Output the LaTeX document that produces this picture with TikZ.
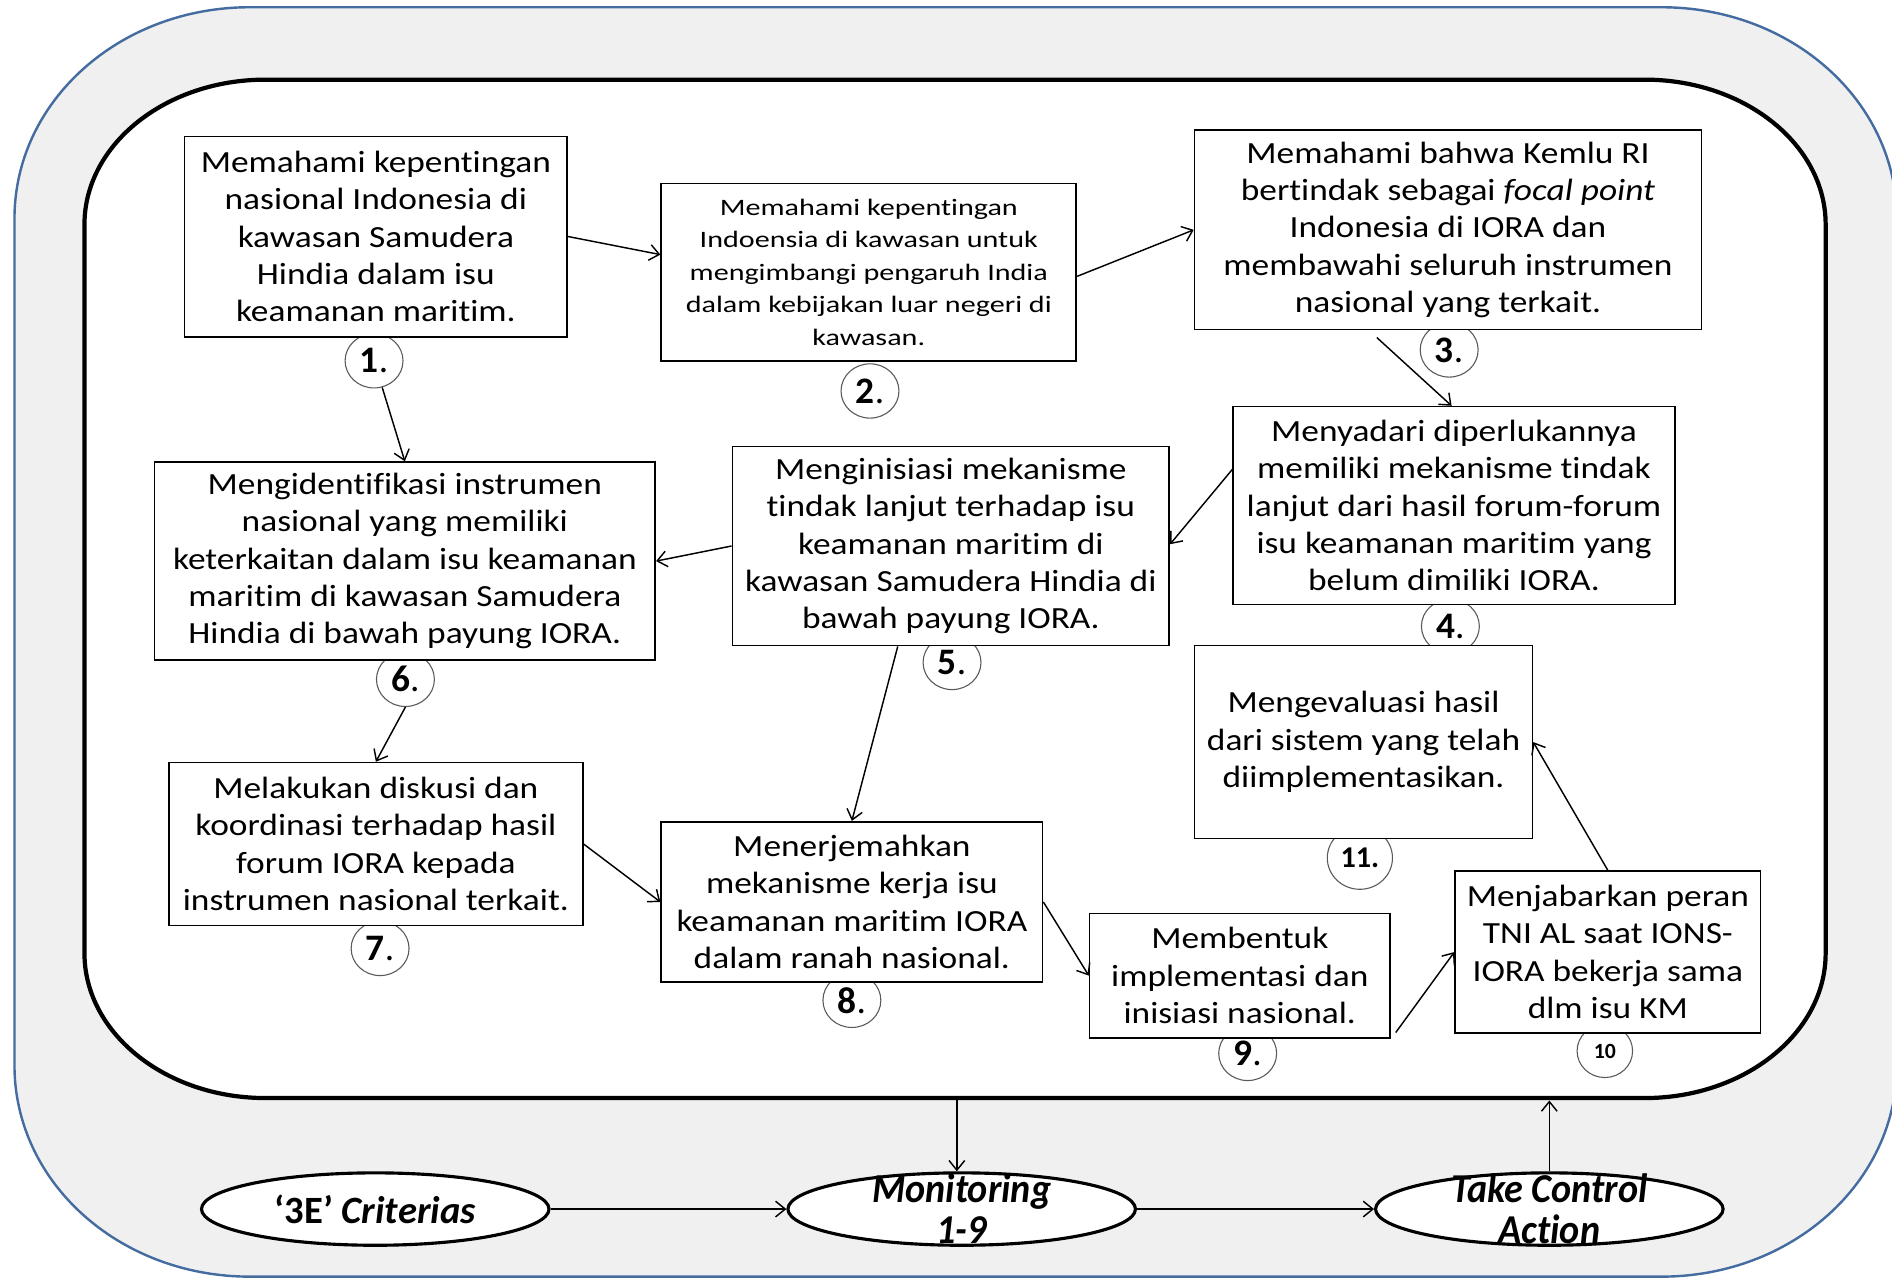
\documentclass[tikz,border=0pt]{standalone}
\usepackage{fontspec}
\setmainfont{Carlito}[Ligatures=NoCommon]
\newfontfamily\mainf[FakeStretch=1.15,Ligatures=NoCommon]{Carlito}
\newfontfamily\smallf[FakeStretch=1.28,Ligatures=NoCommon]{Carlito}
\newfontfamily\condf[FakeStretch=0.93,Ligatures=NoCommon]{Carlito}
\usetikzlibrary{arrows.meta,shapes.geometric,calc}
\definecolor{outerfill}{RGB}{240,240,240}
\definecolor{outerblue}{RGB}{68,108,160}
\definecolor{circgray}{RGB}{90,90,90}
\begin{document}
\begin{tikzpicture}[x=1pt,y=-1pt,
  box/.style={draw=black,line width=1.4pt,fill=white,align=center,inner sep=0pt,
    font=\mainf\fontsize{25.5}{31}\selectfont},
  numc/.style={draw=circgray,line width=0.9pt,fill=white,ellipse,inner sep=0pt,
    minimum width=48pt,minimum height=45pt,font=\fontsize{31}{31}\selectfont},
  arr/.style={line width=1.2pt,-{Straight Barb[length=8pt,width=13pt]}},
  oval/.style={draw=black,line width=2.6pt,fill=white,ellipse,inner sep=0pt,
    minimum width=288pt,minimum height=60pt},
  ovtext/.style={font=\condf\bfseries\itshape\fontsize{34}{34}\selectfont,align=center,inner sep=0pt}
]
\useasboundingbox (0,0) rectangle (1568,1061);
\fill[white] (0,0) rectangle (1568,1061);
% outer frame
\draw[draw=outerblue,line width=2pt,fill=outerfill]
  (12,181) .. controls (12,84) and (99,6) .. (207,6) -- (1377,6)
  .. controls (1485,6) and (1572,84) .. (1572,181) -- (1572,883)
  .. controls (1572,980) and (1485,1058) .. (1377,1058) -- (207,1058)
  .. controls (99,1058) and (12,980) .. (12,883) -- cycle;
% inner frame
\draw[draw=black,line width=3.5pt,fill=white]
  (70,186) .. controls (70,120) and (137,66) .. (220,66) -- (1363,66)
  .. controls (1446,66) and (1513,120) .. (1513,186) -- (1513,790)
  .. controls (1513,856) and (1446,910) .. (1363,910) -- (220,910)
  .. controls (137,910) and (70,856) .. (70,790) -- cycle;
\coordinate (inA) at (793,912);
\coordinate (inB) at (1284,912);
% number circles
\node[numc] (c1) at (310,299) {\textbf{1}.};
\node[numc] (c2) at (721,324) {\textbf{2}.};
\node[numc] (c3) at (1201,290) {\textbf{3}.};
\node[numc] (c4) at (1202,519) {\textbf{4}.};
\node[numc] (c5) at (789,549) {\textbf{5}.};
\node[numc] (c6) at (336,563) {\textbf{6}.};
\node[numc] (c7) at (315,786) {\textbf{7}.};
\node[numc] (c8) at (706,829) {\textbf{8}.};
\node[numc] (c9) at (1034,873) {\textbf{9}.};
\node[numc,minimum width=46pt,minimum height=44pt,font=\bfseries\fontsize{18}{18}\selectfont] (c10) at (1330,871) {10};
\node[numc,minimum width=54pt,minimum height=52pt,font=\bfseries\fontsize{25}{25}\selectfont] (c11) at (1127,711) {11.};
% boxes
\node[box,minimum width=317pt,minimum height=166pt] (b1) at (311.5,196)
  {Memahami kepentingan\\nasional Indonesia di\\kawasan Samudera\\Hindia dalam isu\\keamanan maritim.};
\node[box,minimum width=344pt,minimum height=147pt,font=\smallf\fontsize{19.5}{27}\selectfont] (b2) at (720,225.5)
  {Memahami kepentingan\\Indoensia di kawasan untuk\\mengimbangi pengaruh India\\dalam kebijakan luar negeri di\\kawasan.};
\node[box,minimum width=420pt,minimum height=165pt] (b3) at (1200,190.5)
  {Memahami bahwa Kemlu RI\\bertindak sebagai \textit{focal point}\\Indonesia di IORA dan\\membawahi seluruh instrumen\\nasional yang terkait.};
\node[box,minimum width=366pt,minimum height=164pt] (b4) at (1205,419)
  {Menyadari diperlukannya\\memiliki mekanisme tindak\\lanjut dari hasil forum-forum\\isu keamanan maritim yang\\belum dimiliki IORA.};
\node[box,minimum width=362pt,minimum height=165pt] (b5) at (788,452.5)
  {Menginisiasi mekanisme\\tindak lanjut terhadap isu\\keamanan maritim di\\kawasan Samudera Hindia di\\bawah payung IORA.};
\node[box,minimum width=415pt,minimum height=164pt] (b6) at (335.5,465)
  {Mengidentifikasi instrumen\\nasional yang memiliki\\keterkaitan dalam isu keamanan\\maritim di kawasan Samudera\\Hindia di bawah payung IORA.};
\node[box,minimum width=343pt,minimum height=135pt] (b7) at (311.5,699.5)
  {Melakukan diskusi dan\\koordinasi terhadap hasil\\forum IORA kepada\\instrumen nasional terkait.};
\node[box,minimum width=316pt,minimum height=133pt] (b8) at (706,747.5)
  {Menerjemahkan\\mekanisme kerja isu\\keamanan maritim IORA\\dalam ranah nasional.};
\node[box,minimum width=249pt,minimum height=103pt] (b9) at (1027.5,808.5)
  {Membentuk\\implementasi dan\\inisiasi nasional.};
\node[box,minimum width=253pt,minimum height=134pt] (b10) at (1332.5,789)
  {Menjabarkan peran\\TNI AL saat IONS-\\IORA bekerja sama\\dlm isu KM};
\node[box,minimum width=280pt,minimum height=160pt] (b11) at (1130,615)
  {Mengevaluasi hasil\\dari sistem yang telah\\diimplementasikan.};
% bottom ovals
\node[oval,font=\bfseries\fontsize{32}{32}\selectfont] (e1) at (311,1002) {‘3E’ \textit{Criterias}};
\node[oval] (e2) at (797,1002) {};
\node[ovtext] (e2t) at (797,1002) {Monitoring\\1-9};
\node[oval] (e3) at (1284,1002) {};
\node[ovtext] (e3t) at (1284,1002) {Take Control\\Action};
% connectors
\draw[arr] (b1.east) -- (b2.west |- 0,211);
\draw[arr] (b2.east |- 0,229) -- (b3.west);
\draw[arr] ($(b3.south -| 1141,0)+(0,6)$) -- (b4.north -| 1203,0);
\draw[arr] (b4.west |- 0,389) -- (b5.east |- 0,451);
\draw[arr] (b5.west) -- (b6.east);
\draw[arr] (c1) -- (b6.north);
\draw[arr] (c6.south) -- (b7.north);
\draw[arr] (b5.south -| 744,0) -- (b8.north);
\draw[arr] (b7.east) -- (b8.west);
\draw[arr] (b8.east) -- (b9.west);
\draw[arr] ($(b9.south east)+(4,-5)$) -- (b10.west);
\draw[arr] (b10.north) -- (b11.east);
\draw[arr] (inA) -- (inA |- e2.north);
\draw[arr] (e1.east) -- (e2.west);
\draw[arr] (e2.east) -- (e3.west);
\draw[arr] (e3.north) -- (inB);
\end{tikzpicture}
\end{document}
